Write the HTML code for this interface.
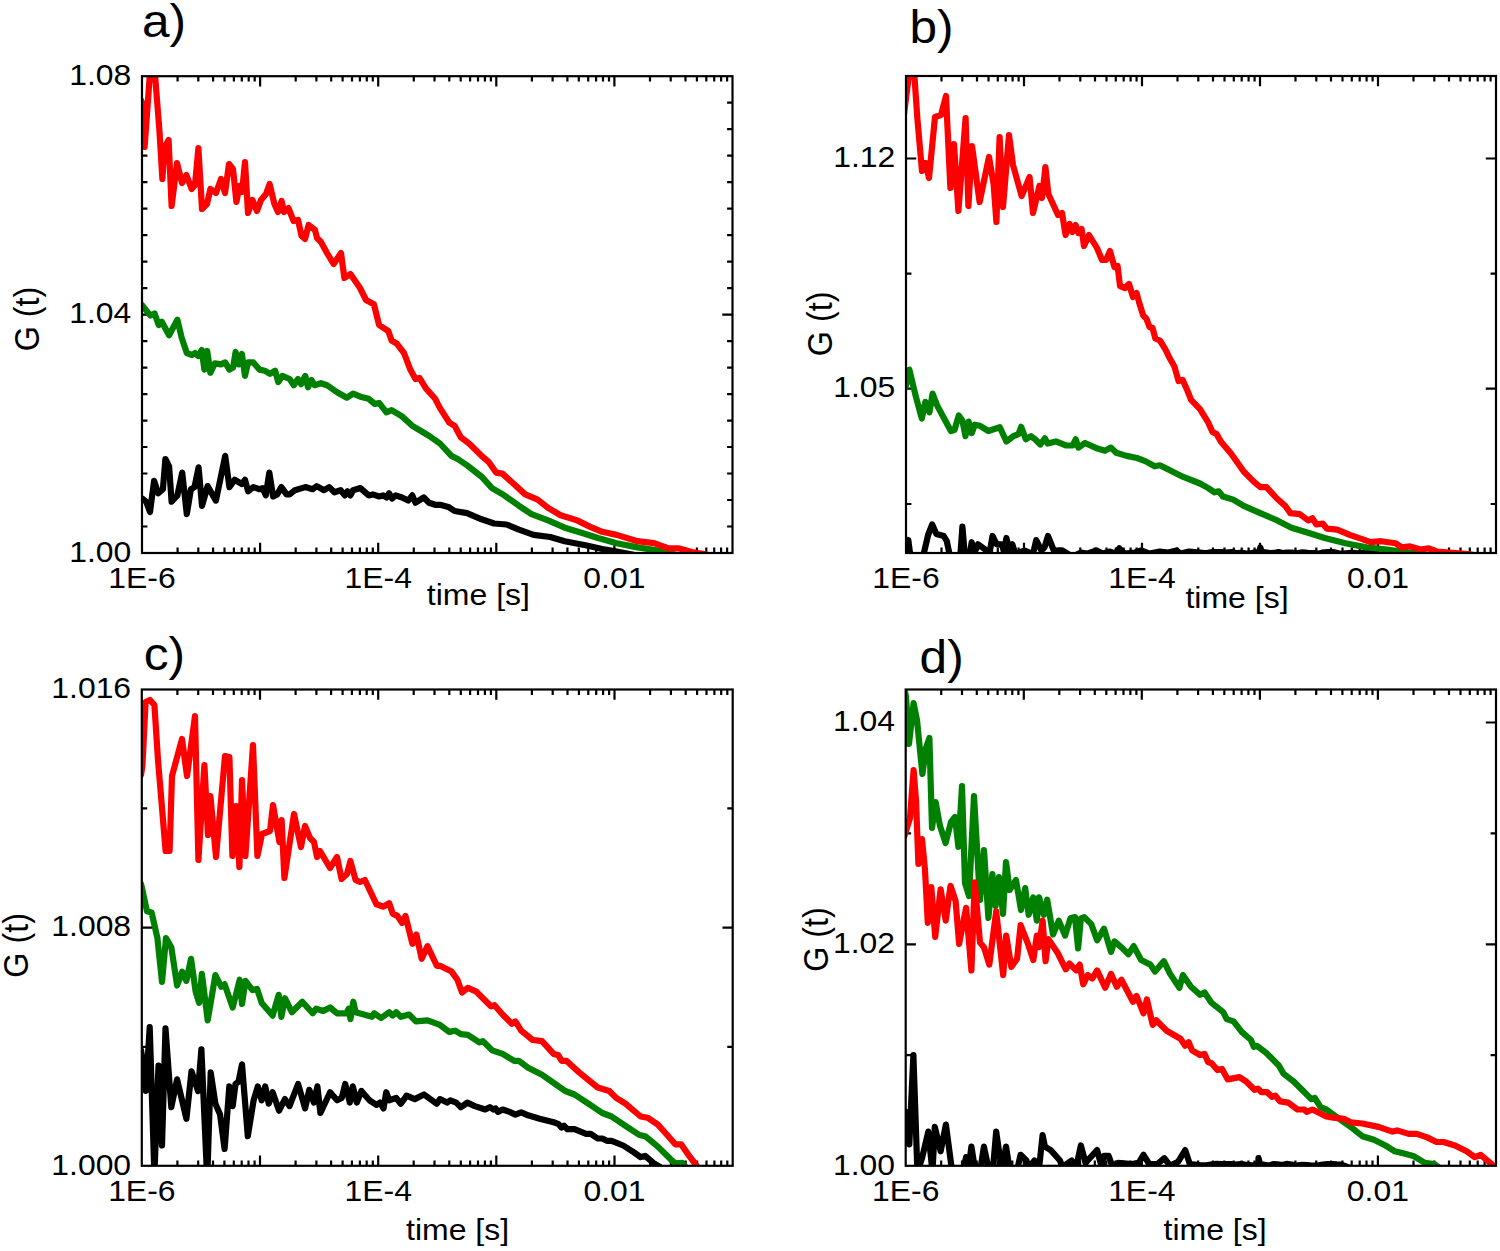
<!DOCTYPE html>
<html lang="en"><head><meta charset="utf-8"><title>G(t) correlation curves</title>
<style>html,body{margin:0;padding:0;background:#fff}svg{display:block}</style></head><body>
<svg width="1500" height="1251" viewBox="0 0 1500 1251">
<rect x="0" y="0" width="1500" height="1251" fill="#ffffff"/>
<defs>
<clipPath id="cpa"><rect x="142" y="76.2" width="590.5" height="476.8"/></clipPath>
<clipPath id="cpb"><rect x="906" y="76" width="590" height="477"/></clipPath>
<clipPath id="cpc"><rect x="141.8" y="689.5" width="590.9" height="476.3"/></clipPath>
<clipPath id="cpd"><rect x="905.7" y="689.5" width="590.3" height="476.3"/></clipPath>
</defs>
<g id="panel-a">
<path d="M177.6 553v-5.4M177.6 76.2v5.4M198.3 553v-5.4M198.3 76.2v5.4M213.1 553v-5.4M213.1 76.2v5.4M224.5 553v-5.4M224.5 76.2v5.4M233.9 553v-5.4M233.9 76.2v5.4M241.8 553v-5.4M241.8 76.2v5.4M248.7 553v-5.4M248.7 76.2v5.4M254.7 553v-5.4M254.7 76.2v5.4M260.1 553v-10.2M260.1 76.2v10.2M295.7 553v-5.4M295.7 76.2v5.4M316.4 553v-5.4M316.4 76.2v5.4M331.2 553v-5.4M331.2 76.2v5.4M342.6 553v-5.4M342.6 76.2v5.4M352 553v-5.4M352 76.2v5.4M359.9 553v-5.4M359.9 76.2v5.4M366.8 553v-5.4M366.8 76.2v5.4M372.8 553v-5.4M372.8 76.2v5.4M378.2 553v-10.2M378.2 76.2v10.2M413.8 553v-5.4M413.8 76.2v5.4M434.5 553v-5.4M434.5 76.2v5.4M449.3 553v-5.4M449.3 76.2v5.4M460.7 553v-5.4M460.7 76.2v5.4M470.1 553v-5.4M470.1 76.2v5.4M478 553v-5.4M478 76.2v5.4M484.9 553v-5.4M484.9 76.2v5.4M490.9 553v-5.4M490.9 76.2v5.4M496.3 553v-10.2M496.3 76.2v10.2M531.9 553v-5.4M531.9 76.2v5.4M552.6 553v-5.4M552.6 76.2v5.4M567.4 553v-5.4M567.4 76.2v5.4M578.8 553v-5.4M578.8 76.2v5.4M588.2 553v-5.4M588.2 76.2v5.4M596.1 553v-5.4M596.1 76.2v5.4M603 553v-5.4M603 76.2v5.4M609 553v-5.4M609 76.2v5.4M614.4 553v-10.2M614.4 76.2v10.2M650 553v-5.4M650 76.2v5.4M670.7 553v-5.4M670.7 76.2v5.4M685.5 553v-5.4M685.5 76.2v5.4M696.9 553v-5.4M696.9 76.2v5.4M706.3 553v-5.4M706.3 76.2v5.4M714.2 553v-5.4M714.2 76.2v5.4M721.1 553v-5.4M721.1 76.2v5.4M727.1 553v-5.4M727.1 76.2v5.4M142 314.6h10.2M732.5 314.6h-10.2M142 102.7h5.4M732.5 102.7h-5.4M142 129.2h5.4M732.5 129.2h-5.4M142 155.7h5.4M732.5 155.7h-5.4M142 182.2h5.4M732.5 182.2h-5.4M142 208.6h5.4M732.5 208.6h-5.4M142 235.1h5.4M732.5 235.1h-5.4M142 261.6h5.4M732.5 261.6h-5.4M142 288.1h5.4M732.5 288.1h-5.4M142 341.1h5.4M732.5 341.1h-5.4M142 367.6h5.4M732.5 367.6h-5.4M142 394.1h5.4M732.5 394.1h-5.4M142 420.6h5.4M732.5 420.6h-5.4M142 447h5.4M732.5 447h-5.4M142 473.5h5.4M732.5 473.5h-5.4M142 500h5.4M732.5 500h-5.4M142 526.5h5.4M732.5 526.5h-5.4" stroke="#000" stroke-width="2.2" fill="none"/>
<polyline clip-path="url(#cpa)" points="142.1,498.5 146.2,501.7 150,512 154.1,480.9 158.3,493.3 162.9,489.2 165.4,459 169.1,466.3 171.6,501.7 177.4,495.4 182.2,472.6 186.8,514.1 190.9,489.2 194.5,487.1 198.6,467.4 202,505.8 207.6,486.1 215.9,500.6 225.2,455.9 229.4,487.1 234.6,479.8 241.9,484 245,479.8 248.1,491.3 253.3,487.1 259.5,489.2 262.7,488.1 265.8,495.4 269.3,472.6 273.1,496.5 277.2,494.4 281.4,487.1 286.6,494.4 289.7,494.4 294.9,490.2 305.3,487.1 312.6,489.2 316.7,486.1 324,490.2 329.2,487.1 334.4,492.3 340.6,490.2 344.8,495.4 347.5,491.3 350.4,495.4 353.1,490.2 360.4,488.1 368.7,495.4 372.9,494.4 379.1,496.5 383.2,495.4 386.4,497.5 389.1,493.3 392,498.5 395.7,495.4 402,497.5 408.2,500.6 412.3,495.4 415.5,502.7 423.8,497.5 429,502.7 435.2,504.8 440,504.8 448.3,506.9 454.6,511 467,513.1 481.6,519.3 494.1,523.5 506.5,524.5 519,529.7 533.6,534.9 550.2,537 564.7,541.2 585.5,545.3 602.2,549 616.7,551.6 627.1,553.6 640,556" fill="none" stroke="#000000" stroke-width="6.2" stroke-linejoin="round" stroke-linecap="round"/>
<polyline clip-path="url(#cpa)" points="142.1,305.2 146.2,310.4 150.4,315.6 154.6,313.5 158.7,325 161.8,321.8 169.1,335.3 177.4,319.8 181.6,337.4 186.8,353 192,355 195,353 198.2,356 201.7,350 204.4,369.6 207.2,351 210.3,372.8 214.8,363.4 221,364.4 225.2,362.4 229.4,369.6 233.1,367.6 235.6,352 238.8,364.4 241.9,354 245,375.9 248.1,362.4 253.3,362.4 259.5,369.6 264.7,370.7 269.9,373.8 275.1,370.7 278.3,382.1 282.4,375.9 289.7,379 293.8,385.2 298,379 301.1,384.2 305.3,375.9 308,387.3 311.5,380 314.6,385.2 320.9,383.2 327.1,385.2 337.5,392.5 346.9,397.7 353.1,393.6 360.4,396.7 368.7,398.8 374.9,404 379.1,402.9 386.4,412.3 391.6,410.2 402,416.4 412.3,425.8 422.7,432 431,437.2 440,443.5 451.4,455.9 457.7,459 467,465.3 481.6,476.7 492,488.1 504.4,495.4 519,505.8 531.5,514.1 548.1,520.4 564.7,527.7 581.4,532.8 598,538 616.7,543.2 637.5,547.4 658.3,550.5 670.8,553.6 680,556" fill="none" stroke="#008000" stroke-width="6.2" stroke-linejoin="round" stroke-linecap="round"/>
<polyline clip-path="url(#cpa)" points="141,100 142.4,104 144.6,147 152.3,40.6 159.3,128.7 162.4,179 164.4,148 168.6,140 171.6,206 177,163 182,183 186.4,175 191.6,189 195,185 198.4,148 202,209 207,204 210.4,189 216,193 221,179 225,193 229,164 233,169 236.4,202 239.4,186 242,192 245,162 248,213 252.4,200 257,211 261,200 266,194 269.6,184 274.4,204 278,212 281.6,201 284,212 288.4,208 293.6,221 298,220 301.6,236 305,239 308.6,225 315,230 317,238 321,242 327,253 333.6,264 341,253 344.4,278 350.4,274 360,288 366,300 373.9,304.2 379.1,325 388.4,331.2 391.6,340.5 396.8,343.7 404,353 410.3,369.6 415.5,379 419.6,378 425.9,388.4 435.2,398.8 440,408.1 449.4,422.7 454.6,425.8 460.8,437.2 469.1,443.5 481.6,455.9 488.9,462.2 496.1,472.6 502.4,473.6 512.8,483 525.2,494.4 537.7,499.6 548.1,507.9 560.6,515.2 577.2,520.4 589.7,526.6 602.2,531.8 616.7,534.9 637.5,541.2 654.1,543.2 668.7,548.4 679.1,548.4 691.6,552 704,554 712,556" fill="none" stroke="#ff0000" stroke-width="6.2" stroke-linejoin="round" stroke-linecap="round"/>
<rect x="142" y="76.2" width="590.5" height="476.8" fill="none" stroke="#000" stroke-width="2.2"/>
<text transform="translate(131.3 84.9) scale(1.1 1)" text-anchor="end" font-family="Liberation Sans, sans-serif" font-size="29" fill="#000">1.08</text>
<text transform="translate(131.3 323.3) scale(1.1 1)" text-anchor="end" font-family="Liberation Sans, sans-serif" font-size="29" fill="#000">1.04</text>
<text transform="translate(131.3 561.7) scale(1.1 1)" text-anchor="end" font-family="Liberation Sans, sans-serif" font-size="29" fill="#000">1.00</text>
<text transform="translate(142 588) scale(1.1 1)" text-anchor="middle" font-family="Liberation Sans, sans-serif" font-size="29" fill="#000">1E-6</text>
<text transform="translate(378.2 588) scale(1.1 1)" text-anchor="middle" font-family="Liberation Sans, sans-serif" font-size="29" fill="#000">1E-4</text>
<text transform="translate(614.4 588) scale(1.1 1)" text-anchor="middle" font-family="Liberation Sans, sans-serif" font-size="29" fill="#000">0.01</text>
<text transform="translate(478.4 605) scale(1.085 1)" text-anchor="middle" font-family="Liberation Sans, sans-serif" font-size="29.5" fill="#000">time [s]</text>
<text transform="translate(39.1 319) rotate(-90) scale(1 1.09)" text-anchor="middle" font-family="Liberation Sans, sans-serif" font-size="32.3" fill="#000">G (t)</text>
<text transform="translate(141.9 36.5) scale(1.09 1)" font-family="Liberation Sans, sans-serif" font-size="45.5" fill="#000">a)</text>
</g>
<g id="panel-b">
<path d="M941.5 553v-5.4M941.5 76v5.4M962.3 553v-5.4M962.3 76v5.4M977 553v-5.4M977 76v5.4M988.5 553v-5.4M988.5 76v5.4M997.8 553v-5.4M997.8 76v5.4M1005.7 553v-5.4M1005.7 76v5.4M1012.6 553v-5.4M1012.6 76v5.4M1018.6 553v-5.4M1018.6 76v5.4M1024 553v-10.2M1024 76v10.2M1059.5 553v-5.4M1059.5 76v5.4M1080.3 553v-5.4M1080.3 76v5.4M1095 553v-5.4M1095 76v5.4M1106.5 553v-5.4M1106.5 76v5.4M1115.8 553v-5.4M1115.8 76v5.4M1123.7 553v-5.4M1123.7 76v5.4M1130.6 553v-5.4M1130.6 76v5.4M1136.6 553v-5.4M1136.6 76v5.4M1142 553v-10.2M1142 76v10.2M1177.5 553v-5.4M1177.5 76v5.4M1198.3 553v-5.4M1198.3 76v5.4M1213 553v-5.4M1213 76v5.4M1224.5 553v-5.4M1224.5 76v5.4M1233.8 553v-5.4M1233.8 76v5.4M1241.7 553v-5.4M1241.7 76v5.4M1248.6 553v-5.4M1248.6 76v5.4M1254.6 553v-5.4M1254.6 76v5.4M1260 553v-10.2M1260 76v10.2M1295.5 553v-5.4M1295.5 76v5.4M1316.3 553v-5.4M1316.3 76v5.4M1331 553v-5.4M1331 76v5.4M1342.5 553v-5.4M1342.5 76v5.4M1351.8 553v-5.4M1351.8 76v5.4M1359.7 553v-5.4M1359.7 76v5.4M1366.6 553v-5.4M1366.6 76v5.4M1372.6 553v-5.4M1372.6 76v5.4M1378 553v-10.2M1378 76v10.2M1413.5 553v-5.4M1413.5 76v5.4M1434.3 553v-5.4M1434.3 76v5.4M1449 553v-5.4M1449 76v5.4M1460.5 553v-5.4M1460.5 76v5.4M1469.8 553v-5.4M1469.8 76v5.4M1477.7 553v-5.4M1477.7 76v5.4M1484.6 553v-5.4M1484.6 76v5.4M1490.6 553v-5.4M1490.6 76v5.4M906 158.5h10.2M1496 158.5h-10.2M906 388.7h10.2M1496 388.7h-10.2M906 273.6h5.4M1496 273.6h-5.4M906 504h5.4M1496 504h-5.4" stroke="#000" stroke-width="2.2" fill="none"/>
<polyline clip-path="url(#cpb)" points="905.8,556 908.3,540 910.4,556 914,560 920,560 923.9,553 928.1,535 932.2,524.5 936.4,533.9 943.7,536 946.8,541.2 949.9,556 955,560 960.3,556 962.4,526.6 964.9,556 969.6,556 971.7,542.2 973.8,554 978,544.3 985.2,549.5 989.4,554 992.5,536 996.7,544.3 1001.9,544.3 1004,551.6 1006.4,538 1009.1,549.5 1012.3,544.3 1015.4,554 1024.7,550.5 1033,554 1036.2,540.1 1041.4,550.5 1044.5,547.4 1048,536 1053.8,550.5 1062.2,550.4 1072.6,556.7 1080.9,552.5 1087.1,553.6 1096.5,550.4 1102.7,553.6 1110,551.5 1115.2,553.6 1119.3,548.3 1124.5,553.6 1134.9,552.5 1141.2,550.4 1149.5,553.6 1159.9,551.5 1168.2,552.5 1176.5,550.4 1180.7,553.6 1189,551.5 1200,552.5 1204,553.1 1207.7,552.9 1212.3,552 1217.3,552 1222.1,552 1225.9,552.7 1231.8,552.1 1236,553 1242.4,552.9 1247,553.7 1250.7,553.4 1255.1,552.2 1258.5,553 1258.9,552.5 1260.3,547.5 1262.1,553 1264.9,552.2 1270.1,553.1 1274.7,552.9 1278.4,552 1282.5,553.1 1287.3,552.5 1292.6,552.7 1297,553.3 1302.6,552.3 1307.8,552.8 1313.9,553.2 1318.3,553.7 1322.1,552.7 1327.9,552.2 1332.9,552 1338.4,553.3 1343.6,553.5 1348,553.2 1353.3,552.9 1358.2,553.4 1364.5,552.8 1370,552 1380,555 1390,558" fill="none" stroke="#000000" stroke-width="6.2" stroke-linejoin="round" stroke-linecap="round"/>
<polyline clip-path="url(#cpb)" points="905,388 906.2,385.2 909.4,369.6 915.6,395.6 921.8,418.5 925.4,401.9 929.5,412.3 932.6,393.6 937.4,406 950.9,431 954.5,430 958.8,415.4 962.4,420.6 965.5,436.2 968.6,421.6 971.7,433.1 974.8,424.7 980,425.8 988.4,431 999.8,427.2 1006.4,441.4 1013.3,436.2 1018.5,434.1 1021.2,426.8 1025.8,439.3 1031,436.2 1035.1,439.3 1040.3,444.5 1044.9,438.3 1047.6,443.5 1055.9,441.4 1066.3,445.5 1072.6,445.5 1075.7,439.3 1078.4,447.6 1085,443 1097.5,448.6 1104.8,450.7 1111,447.6 1116.2,452.8 1126.6,455.9 1137,458 1145.3,461.1 1154.7,466.3 1159.9,465.3 1170.3,470.5 1182.7,476.7 1200,483.5 1208.3,488.1 1214.6,492.3 1218.7,491.3 1222.9,496.5 1233.3,499.6 1243.7,505.8 1260.3,513.1 1274.8,519.3 1291.5,527.7 1308.1,532.8 1324.7,538 1345.5,543.2 1366.3,547.4 1387.1,549.5 1407.9,552.6 1418.3,554 1430,556" fill="none" stroke="#008000" stroke-width="6.2" stroke-linejoin="round" stroke-linecap="round"/>
<polyline clip-path="url(#cpb)" points="903.5,118 912.4,47.4 917.5,120 922,171 925.6,163 929,178 935,117 941,115 946,96 950.4,188 954,144 958.4,211 965.6,118 968.4,206 972,146 979.6,202 989,157 993.6,184 996.4,222 999.6,137 1003,207 1009,135 1013,165 1021.6,196 1029.6,177 1033,213 1039.4,186 1042,198 1045.4,167 1048.4,194 1058,215 1062,213 1065.6,235 1069.6,224 1072.4,232 1075.6,225 1078.4,233 1081.6,229 1084,246 1089,235 1097,248 1102,260 1106,260 1110,251 1114.4,267 1117.6,266 1120,286 1125,288 1129,284 1133,297 1136.6,293 1139,302 1143.2,315.6 1146.4,318.7 1149.5,327 1152.6,328 1155.3,338.5 1159.9,340.5 1165.1,348.9 1170.3,359.3 1174.4,366.5 1178.6,381.1 1182.7,380 1186.9,389.4 1191.1,399.8 1200,409.1 1208.3,422.7 1212.5,432 1216.6,434.1 1220.8,441.4 1231.2,453.8 1243.7,471.5 1254,481.9 1260.3,487.1 1266.5,487.1 1276.9,498.5 1285.2,505.8 1290.4,513.1 1299.8,514.1 1308.1,520.4 1312.3,518.3 1316.4,524.5 1322.7,523.5 1326.8,528.7 1337.2,529.7 1349.7,534.9 1362.2,539.1 1370.5,542.2 1380.9,541.2 1395.4,543.2 1401.7,547.4 1410,546.4 1420.4,549.5 1428.7,548.4 1437,551.6 1449.5,552.6 1468.2,554 1480,556" fill="none" stroke="#ff0000" stroke-width="6.2" stroke-linejoin="round" stroke-linecap="round"/>
<rect x="906" y="76" width="590" height="477" fill="none" stroke="#000" stroke-width="2.2"/>
<text transform="translate(895.3 167.2) scale(1.1 1)" text-anchor="end" font-family="Liberation Sans, sans-serif" font-size="29" fill="#000">1.12</text>
<text transform="translate(895.3 397.4) scale(1.1 1)" text-anchor="end" font-family="Liberation Sans, sans-serif" font-size="29" fill="#000">1.05</text>
<text transform="translate(906 588) scale(1.1 1)" text-anchor="middle" font-family="Liberation Sans, sans-serif" font-size="29" fill="#000">1E-6</text>
<text transform="translate(1142 588) scale(1.1 1)" text-anchor="middle" font-family="Liberation Sans, sans-serif" font-size="29" fill="#000">1E-4</text>
<text transform="translate(1378 588) scale(1.1 1)" text-anchor="middle" font-family="Liberation Sans, sans-serif" font-size="29" fill="#000">0.01</text>
<text transform="translate(1237 607.6) scale(1.085 1)" text-anchor="middle" font-family="Liberation Sans, sans-serif" font-size="29.5" fill="#000">time [s]</text>
<text transform="translate(832.2 323.9) rotate(-90) scale(1 1.09)" text-anchor="middle" font-family="Liberation Sans, sans-serif" font-size="32.3" fill="#000">G (t)</text>
<text transform="translate(909.5 42.8) scale(1.09 1)" font-family="Liberation Sans, sans-serif" font-size="45.5" fill="#000">b)</text>
</g>
<g id="panel-c">
<path d="M177.4 1165.8v-5.4M177.4 689.5v5.4M198.2 1165.8v-5.4M198.2 689.5v5.4M213 1165.8v-5.4M213 689.5v5.4M224.4 1165.8v-5.4M224.4 689.5v5.4M233.8 1165.8v-5.4M233.8 689.5v5.4M241.7 1165.8v-5.4M241.7 689.5v5.4M248.5 1165.8v-5.4M248.5 689.5v5.4M254.6 1165.8v-5.4M254.6 689.5v5.4M260 1165.8v-10.2M260 689.5v10.2M295.6 1165.8v-5.4M295.6 689.5v5.4M316.4 1165.8v-5.4M316.4 689.5v5.4M331.1 1165.8v-5.4M331.1 689.5v5.4M342.6 1165.8v-5.4M342.6 689.5v5.4M351.9 1165.8v-5.4M351.9 689.5v5.4M359.9 1165.8v-5.4M359.9 689.5v5.4M366.7 1165.8v-5.4M366.7 689.5v5.4M372.8 1165.8v-5.4M372.8 689.5v5.4M378.2 1165.8v-10.2M378.2 689.5v10.2M413.7 1165.8v-5.4M413.7 689.5v5.4M434.5 1165.8v-5.4M434.5 689.5v5.4M449.3 1165.8v-5.4M449.3 689.5v5.4M460.8 1165.8v-5.4M460.8 689.5v5.4M470.1 1165.8v-5.4M470.1 689.5v5.4M478 1165.8v-5.4M478 689.5v5.4M484.9 1165.8v-5.4M484.9 689.5v5.4M490.9 1165.8v-5.4M490.9 689.5v5.4M496.3 1165.8v-10.2M496.3 689.5v10.2M531.9 1165.8v-5.4M531.9 689.5v5.4M552.7 1165.8v-5.4M552.7 689.5v5.4M567.5 1165.8v-5.4M567.5 689.5v5.4M578.9 1165.8v-5.4M578.9 689.5v5.4M588.3 1165.8v-5.4M588.3 689.5v5.4M596.2 1165.8v-5.4M596.2 689.5v5.4M603.1 1165.8v-5.4M603.1 689.5v5.4M609.1 1165.8v-5.4M609.1 689.5v5.4M614.5 1165.8v-10.2M614.5 689.5v10.2M650.1 1165.8v-5.4M650.1 689.5v5.4M670.9 1165.8v-5.4M670.9 689.5v5.4M685.7 1165.8v-5.4M685.7 689.5v5.4M697.1 1165.8v-5.4M697.1 689.5v5.4M706.5 1165.8v-5.4M706.5 689.5v5.4M714.4 1165.8v-5.4M714.4 689.5v5.4M721.2 1165.8v-5.4M721.2 689.5v5.4M727.3 1165.8v-5.4M727.3 689.5v5.4M141.8 927.6h10.2M732.7 927.6h-10.2M141.8 808.3h5.4M732.7 808.3h-5.4M141.8 1046.8h5.4M732.7 1046.8h-5.4" stroke="#000" stroke-width="2.2" fill="none"/>
<polyline clip-path="url(#cpc)" points="141,1050 142.3,1058.5 145.8,1091 149.7,1027.2 154.4,1175 158.5,1065.5 162,1145.5 165.5,1028.4 171.3,1107.2 177.1,1079.4 186.4,1118.8 191.5,1071.3 198,1091 201.4,1049.3 207.2,1180 210.7,1072.4 215.4,1103.7 220,1114.2 224.6,1149 229.3,1086.4 232.7,1106.1 235.5,1084 238.5,1081.7 242,1064.3 247.8,1136.2 253.6,1100.3 257.8,1086.4 261.7,1100.3 265.2,1086.4 268.7,1103.7 272.6,1092.2 279.1,1110.7 284.9,1099.1 289.5,1106.1 298.1,1084 305.1,1108.4 309.3,1089.8 313.9,1102.6 317.4,1086.4 320.4,1113 330.1,1092.2 337.1,1100.3 341.7,1098 345.2,1084 349.8,1102.6 352.8,1086.4 356.8,1102.6 361.4,1091 369.5,1100.3 376.5,1104.9 380,1102.6 383.5,1108.4 386.2,1092.2 389.2,1100.3 396.2,1098 400.8,1103.7 406.6,1095.6 414.7,1099.1 424,1094.5 436.8,1103.7 440,1099.1 447,1102.6 450.4,1100.3 456.2,1102.6 460.9,1107.2 467.4,1102.6 474.8,1106.1 485.2,1109.5 489.8,1107.2 493.3,1109.5 495.6,1108.4 498,1111.9 502.6,1109.5 509.6,1111.9 515.4,1114.6 521.2,1112.3 528.1,1115.3 539.7,1118.8 553.6,1122.3 558.2,1123.9 561.7,1127.6 564,1125.8 567.5,1129.2 574.5,1129.2 586.1,1133.9 590.7,1133.9 597.7,1138.5 602.3,1138.5 606.9,1140.8 611.6,1140.8 623.2,1145.5 632.4,1151.3 640.6,1157.1 645.2,1155.9 653.3,1162.9 659.1,1166.3 665,1172" fill="none" stroke="#000000" stroke-width="6.2" stroke-linejoin="round" stroke-linecap="round"/>
<polyline clip-path="url(#cpc)" points="141,884 142.3,889.3 147,911.3 151.6,912.5 157.4,938 162,982 166,938 171.3,947.2 177.1,985.5 182.2,971.6 186.4,980.9 191,958.8 195.6,991.3 199.1,1002.9 201.9,973.9 207.7,1020.3 215.4,975.1 221.2,986.7 224.6,984.3 232.7,1007.5 239.7,979.7 242,1004 245.5,980.9 252.5,990.1 257.1,989 261.7,1002.9 272.6,1015.6 278.7,994.8 281.4,1016.8 284.9,998.2 291.9,1012.2 302.3,1001.7 312.7,1013.3 316.2,1008.7 323.2,1011 330.1,1007.5 337.1,1013.3 346.4,1013.3 348.7,1008.7 350.5,1019.1 353.3,1001.7 355.6,1012.2 371.9,1016.8 374.2,1013.3 381.1,1018 389.2,1012.2 392.7,1015.6 396.2,1012.2 400.8,1016.8 409,1014.5 415.9,1021.4 427.5,1020.3 440,1024.9 449.3,1031.9 455.1,1030.7 460.9,1034.2 467.8,1034.9 479.4,1042.3 482.9,1041.1 492.2,1050.4 502.6,1053.9 514.2,1060.8 518.8,1060.8 528.1,1067.8 542,1074.8 553.6,1082.9 565.2,1091 574.5,1094.5 588.4,1103.7 602.3,1113 611.6,1116.5 625.5,1125.8 639.4,1135 645.2,1136.2 657.9,1146.6 671.9,1160.5 675.3,1163.3 682.3,1162.9 685.8,1167.5 689,1172" fill="none" stroke="#008000" stroke-width="6.2" stroke-linejoin="round" stroke-linecap="round"/>
<polyline clip-path="url(#cpc)" points="141,775 142.4,766 145.6,702 150,700 154.4,705 158,760 165.6,851 169.6,851 172,776 182,739 187,776 195,716 198.4,860 204.4,765 208,835 210.4,796 216,857 225,756 229.4,757 232.4,856 236,806 239.4,867 242,780 245.4,856 253,745 257.4,856 262,834 270,831 273,805 279.4,842 281.6,820 284.4,878 294,814 301,847 305,826 310,838 314,842 317,857 320,851 330,868 337,857 341.6,879 347,874 350.4,861 355.6,880 360,882 364.9,880 376.5,904.3 383.5,906.7 389.2,903.2 392.7,913.6 397.4,915.9 402,922.9 405.5,915.9 412.4,943.8 416.4,934.5 421.7,958.8 427.5,946.1 436.8,965.8 440,965.8 451.6,971.6 457.4,979.7 462,992.5 467.8,987.8 475.9,991.3 486.4,1001.7 491,1006.4 494.5,1005.2 502.6,1014.5 511.9,1023.8 515.4,1021.4 521.2,1030.7 532.7,1040 542,1041.1 553.6,1053.9 558.2,1055.1 561.7,1060.8 566.4,1060.8 579.1,1072.4 597.7,1087.5 609.3,1091 616.2,1097.9 625.5,1103.7 640.6,1116.5 647.5,1117.7 657.9,1124.6 667.2,1135 675.3,1144.3 681.1,1144.3 689.2,1155.9 696.2,1165.2 701,1172" fill="none" stroke="#ff0000" stroke-width="6.2" stroke-linejoin="round" stroke-linecap="round"/>
<rect x="141.8" y="689.5" width="590.9" height="476.3" fill="none" stroke="#000" stroke-width="2.2"/>
<text transform="translate(131.1 698.2) scale(1.1 1)" text-anchor="end" font-family="Liberation Sans, sans-serif" font-size="29" fill="#000">1.016</text>
<text transform="translate(131.1 936.3) scale(1.1 1)" text-anchor="end" font-family="Liberation Sans, sans-serif" font-size="29" fill="#000">1.008</text>
<text transform="translate(131.1 1174.5) scale(1.1 1)" text-anchor="end" font-family="Liberation Sans, sans-serif" font-size="29" fill="#000">1.000</text>
<text transform="translate(141.8 1200.8) scale(1.1 1)" text-anchor="middle" font-family="Liberation Sans, sans-serif" font-size="29" fill="#000">1E-6</text>
<text transform="translate(378.2 1200.8) scale(1.1 1)" text-anchor="middle" font-family="Liberation Sans, sans-serif" font-size="29" fill="#000">1E-4</text>
<text transform="translate(614.5 1200.8) scale(1.1 1)" text-anchor="middle" font-family="Liberation Sans, sans-serif" font-size="29" fill="#000">0.01</text>
<text transform="translate(457.6 1240) scale(1.085 1)" text-anchor="middle" font-family="Liberation Sans, sans-serif" font-size="29.5" fill="#000">time [s]</text>
<text transform="translate(27.6 945.4) rotate(-90) scale(1 1.09)" text-anchor="middle" font-family="Liberation Sans, sans-serif" font-size="32.3" fill="#000">G (t)</text>
<text transform="translate(143.7 669.7) scale(1.09 1)" font-family="Liberation Sans, sans-serif" font-size="45.5" fill="#000">c)</text>
</g>
<g id="panel-d">
<path d="M941.2 1165.8v-5.4M941.2 689.5v5.4M962 1165.8v-5.4M962 689.5v5.4M976.8 1165.8v-5.4M976.8 689.5v5.4M988.2 1165.8v-5.4M988.2 689.5v5.4M997.6 1165.8v-5.4M997.6 689.5v5.4M1005.5 1165.8v-5.4M1005.5 689.5v5.4M1012.3 1165.8v-5.4M1012.3 689.5v5.4M1018.4 1165.8v-5.4M1018.4 689.5v5.4M1023.8 1165.8v-10.2M1023.8 689.5v10.2M1059.3 1165.8v-5.4M1059.3 689.5v5.4M1080.1 1165.8v-5.4M1080.1 689.5v5.4M1094.8 1165.8v-5.4M1094.8 689.5v5.4M1106.3 1165.8v-5.4M1106.3 689.5v5.4M1115.6 1165.8v-5.4M1115.6 689.5v5.4M1123.5 1165.8v-5.4M1123.5 689.5v5.4M1130.4 1165.8v-5.4M1130.4 689.5v5.4M1136.4 1165.8v-5.4M1136.4 689.5v5.4M1141.8 1165.8v-10.2M1141.8 689.5v10.2M1177.4 1165.8v-5.4M1177.4 689.5v5.4M1198.1 1165.8v-5.4M1198.1 689.5v5.4M1212.9 1165.8v-5.4M1212.9 689.5v5.4M1224.3 1165.8v-5.4M1224.3 689.5v5.4M1233.7 1165.8v-5.4M1233.7 689.5v5.4M1241.6 1165.8v-5.4M1241.6 689.5v5.4M1248.4 1165.8v-5.4M1248.4 689.5v5.4M1254.5 1165.8v-5.4M1254.5 689.5v5.4M1259.9 1165.8v-10.2M1259.9 689.5v10.2M1295.4 1165.8v-5.4M1295.4 689.5v5.4M1316.2 1165.8v-5.4M1316.2 689.5v5.4M1331 1165.8v-5.4M1331 689.5v5.4M1342.4 1165.8v-5.4M1342.4 689.5v5.4M1351.7 1165.8v-5.4M1351.7 689.5v5.4M1359.7 1165.8v-5.4M1359.7 689.5v5.4M1366.5 1165.8v-5.4M1366.5 689.5v5.4M1372.5 1165.8v-5.4M1372.5 689.5v5.4M1377.9 1165.8v-10.2M1377.9 689.5v10.2M1413.5 1165.8v-5.4M1413.5 689.5v5.4M1434.3 1165.8v-5.4M1434.3 689.5v5.4M1449 1165.8v-5.4M1449 689.5v5.4M1460.5 1165.8v-5.4M1460.5 689.5v5.4M1469.8 1165.8v-5.4M1469.8 689.5v5.4M1477.7 1165.8v-5.4M1477.7 689.5v5.4M1484.6 1165.8v-5.4M1484.6 689.5v5.4M1490.6 1165.8v-5.4M1490.6 689.5v5.4M905.7 722.5h10.2M1496 722.5h-10.2M905.7 944.3h10.2M1496 944.3h-10.2M905.7 833.4h5.4M1496 833.4h-5.4M905.7 1055.1h5.4M1496 1055.1h-5.4" stroke="#000" stroke-width="2.2" fill="none"/>
<polyline clip-path="url(#cpd)" points="904.5,1120 906.5,1111.9 909.3,1144.3 913.4,1055 917.4,1172 922,1158.2 928.3,1131.6 932.5,1172 934.8,1126.9 940.6,1151.3 945.9,1124.6 952.2,1172 962.6,1172 966.1,1157.1 968.4,1170 971.4,1146.6 975.4,1172 980,1172 983.9,1146.6 989.3,1172 992.7,1172 996.2,1131.6 1002,1172 1006,1146.6 1010.1,1172 1017.1,1170 1020.6,1154.8 1026.4,1160.5 1028.7,1168 1034.5,1160.5 1039.1,1168 1042.6,1135 1044.9,1146.6 1050.7,1150.1 1060,1160.5 1062.3,1167 1071.6,1160.5 1076.2,1167 1080.9,1145.5 1085.5,1162.9 1097.1,1150.1 1101.7,1167 1104,1155.9 1108.7,1155.9 1112.2,1166 1118,1162.9 1131.9,1164 1138.8,1162.9 1143.5,1154.8 1149.2,1164 1157.4,1164 1164.3,1158.2 1170.1,1165.6 1178.2,1161.7 1185.2,1150.1 1189.8,1164 1200,1165.1 1206.5,1165.4 1210.8,1164.6 1216.3,1163.9 1221.2,1164.2 1225.1,1164 1230.9,1164.1 1235.1,1164.6 1241.2,1164 1246.1,1164.9 1252.2,1165.4 1256.7,1165 1258.3,1164.4 1258.5,1158 1260.3,1165 1263.1,1164.5 1269.2,1165.6 1273.2,1164.2 1277.4,1164.3 1282.3,1165 1286.6,1163.9 1291.4,1164.6 1296.6,1165.6 1302.1,1164.8 1307.5,1165.1 1311.2,1165.5 1317,1165.5 1322.9,1164.6 1327.6,1164.1 1333,1164 1336.7,1164.3 1340.7,1164.5 1350,1168 1360,1172" fill="none" stroke="#000000" stroke-width="6.2" stroke-linejoin="round" stroke-linecap="round"/>
<polyline clip-path="url(#cpd)" points="904.5,690 906,696 909,744 913.6,703 917,720 922.4,774 926,748 929.4,738 932,828 935.6,802 940,826 945.6,843 951,822 955,817 958.4,847 962,786 965,883 969,896 974,796 980,900 984,850 988.4,918 992.4,874 995.6,906 999,877 1003,914 1006,862 1009.6,890 1016,880 1021,910 1025.2,888.1 1028.7,914.8 1033.3,897.4 1036.8,920.6 1039.1,897.4 1043.8,914.8 1047.2,899.7 1053,934.5 1058.8,920.6 1065.1,935.6 1070.4,918.3 1075,917.1 1078.1,948.4 1080.9,918.3 1084.3,917.1 1091.3,924.1 1097.1,940.3 1104,928.7 1111,951.9 1114.5,941.4 1122.6,948.4 1128.4,954.2 1133.7,946.1 1141.1,960 1150.4,964.6 1155,971.6 1163.8,961.2 1170.1,973.9 1179.4,987.8 1182.9,975.1 1191,986.7 1200,994.8 1204.6,992.5 1211.6,1002.9 1223.2,1012.2 1226.7,1019.1 1233.6,1021.4 1241.7,1031.9 1251,1040 1253.8,1046.9 1256.8,1045.8 1266.1,1052.7 1278.8,1065.5 1283.5,1073.6 1293.9,1081.7 1302,1089.8 1311.3,1099.1 1314.8,1098 1320.6,1107.2 1326.4,1109.5 1339.1,1118.8 1350.7,1126.9 1362.3,1136.2 1373.9,1139.7 1385.5,1145.5 1394.8,1151.3 1404,1153.6 1413.3,1155.9 1424.9,1162.9 1434.2,1164 1438.8,1167.5 1444,1172" fill="none" stroke="#008000" stroke-width="6.2" stroke-linejoin="round" stroke-linecap="round"/>
<polyline clip-path="url(#cpd)" points="904.5,836 905.6,832 910,818 913.6,770 916,800 918.4,864 922,839 925,870 927.8,922.9 931.3,887 935.2,936.8 940.6,889.3 945.7,920.6 950.5,885.8 955.6,900.9 959.1,943.8 966.1,907.8 971.4,970.4 974.7,882.3 980,942.6 983.9,947.2 989.3,964.6 996.2,911.3 1003.2,975.1 1006.2,935.6 1011.3,966.9 1017.1,958.8 1020.6,925.2 1027.5,942.6 1033.3,960 1036.8,935.6 1039.1,947.2 1042.6,920.6 1045.6,961.2 1048.4,939.1 1057.7,953 1065.8,969.3 1069.3,963.5 1076.2,970.4 1079.7,964.6 1083.2,984.3 1087.8,975.1 1092.4,978.5 1097.1,970.4 1105.2,987.8 1111,973.9 1116.8,986.7 1121.4,979.7 1133,1001.7 1136.5,995.9 1143.5,1013.3 1146.9,999.4 1152.7,1024.9 1156.2,1020.3 1166.6,1030.7 1180.5,1038.8 1185.2,1045.8 1188.7,1042.3 1192.1,1050.4 1200,1055 1204.6,1053.9 1208.1,1062 1211.6,1063.2 1217.4,1070.1 1222,1069 1227.8,1079.4 1239.4,1077.1 1246.4,1081.7 1254.5,1089.8 1258,1088.7 1261.4,1092.2 1267.2,1092.2 1271.9,1096.8 1275.4,1095.6 1280,1101.4 1288.1,1102.6 1297.4,1109.5 1304.3,1109.5 1306.7,1111.9 1312.5,1109.5 1326.4,1116.5 1333.3,1117.7 1343.8,1118.8 1350.7,1122.3 1362.3,1123.5 1378.5,1126.9 1392.4,1131.6 1397.1,1130.4 1408.7,1133.9 1416.8,1133.9 1427.2,1137.4 1436.5,1142 1443.5,1142 1455,1145.5 1466.6,1151.3 1474.8,1157.1 1480.6,1154.8 1488.7,1161.7 1495.6,1167.5 1499,1172" fill="none" stroke="#ff0000" stroke-width="6.2" stroke-linejoin="round" stroke-linecap="round"/>
<rect x="905.7" y="689.5" width="590.3" height="476.3" fill="none" stroke="#000" stroke-width="2.2"/>
<text transform="translate(895 731.2) scale(1.1 1)" text-anchor="end" font-family="Liberation Sans, sans-serif" font-size="29" fill="#000">1.04</text>
<text transform="translate(895 953) scale(1.1 1)" text-anchor="end" font-family="Liberation Sans, sans-serif" font-size="29" fill="#000">1.02</text>
<text transform="translate(895 1174.5) scale(1.1 1)" text-anchor="end" font-family="Liberation Sans, sans-serif" font-size="29" fill="#000">1.00</text>
<text transform="translate(905.7 1200.8) scale(1.1 1)" text-anchor="middle" font-family="Liberation Sans, sans-serif" font-size="29" fill="#000">1E-6</text>
<text transform="translate(1141.8 1200.8) scale(1.1 1)" text-anchor="middle" font-family="Liberation Sans, sans-serif" font-size="29" fill="#000">1E-4</text>
<text transform="translate(1377.9 1200.8) scale(1.1 1)" text-anchor="middle" font-family="Liberation Sans, sans-serif" font-size="29" fill="#000">0.01</text>
<text transform="translate(1215.1 1240) scale(1.085 1)" text-anchor="middle" font-family="Liberation Sans, sans-serif" font-size="29.5" fill="#000">time [s]</text>
<text transform="translate(827.9 939.6) rotate(-90) scale(1 1.09)" text-anchor="middle" font-family="Liberation Sans, sans-serif" font-size="32.3" fill="#000">G (t)</text>
<text transform="translate(919.6 672.5) scale(1.09 1)" font-family="Liberation Sans, sans-serif" font-size="45.5" fill="#000">d)</text>
</g>
</svg></body></html>
